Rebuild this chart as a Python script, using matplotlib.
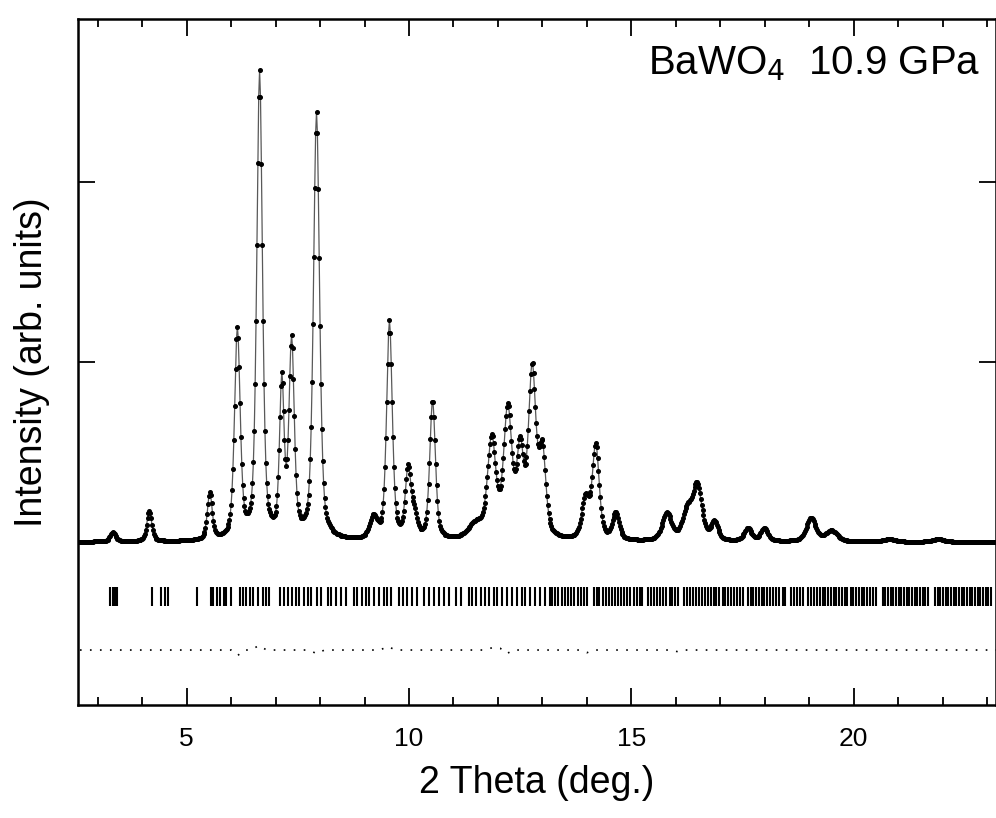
import numpy as np
import matplotlib.pyplot as plt
from matplotlib.ticker import MultipleLocator, NullFormatter

plt.rcParams['font.family'] = ['Liberation Sans', 'DejaVu Sans']

# reflections: position (deg), height (arb.), fwhm (deg)
peak_pos = [3.34, 4.16, 5.52, 6.14, 6.64, 7.14, 7.36, 7.92, 9.20, 9.56, 9.98, 10.12,
            10.53, 11.50, 11.86, 12.22, 12.50, 12.77, 13.00, 13.97, 14.20, 14.65,
            15.80, 16.25, 16.48, 16.87, 17.62, 17.99, 19.04, 19.50, 20.80, 21.90]
peak_height = [0.05, 0.17, 0.26, 1.16, 2.59, 0.85, 1.08, 2.37, 0.12, 1.21, 0.38, 0.12,
               0.77, 0.08, 0.54, 0.70, 0.46, 0.92, 0.46, 0.22, 0.52, 0.15,
               0.15, 0.15, 0.30, 0.10, 0.07, 0.07, 0.13, 0.06, 0.015, 0.015]
peak_fwhm = [0.15, 0.13, 0.13, 0.15, 0.15, 0.12, 0.14, 0.16, 0.20, 0.15, 0.15, 0.15,
             0.15, 0.40, 0.22, 0.22, 0.18, 0.20, 0.18, 0.20, 0.18, 0.18,
             0.25, 0.25, 0.25, 0.18, 0.20, 0.20, 0.25, 0.30, 0.30, 0.30]

# Bragg reflection markers (deg)
bragg = [3.27, 3.34, 3.39, 3.43, 4.21, 4.43, 4.51, 4.57, 5.23,
         5.54, 5.59, 5.68, 5.76, 5.83, 5.89, 6.00,
         6.19, 6.26, 6.34, 6.43, 6.50, 6.60, 6.71, 6.79, 6.86,
         7.09, 7.20, 7.27, 7.37, 7.46, 7.53, 7.64, 7.72, 7.80, 7.92, 8.02, 8.17,
         8.25, 8.36, 8.47, 8.59, 8.77, 8.83, 8.95, 9.04, 9.10, 9.22, 9.33, 9.44, 9.51, 9.60,
         9.78, 9.87, 9.96, 10.07, 10.19, 10.34, 10.45, 10.56, 10.67, 10.78, 10.90, 11.05, 11.16,
         11.35, 11.42, 11.50, 11.61, 11.72, 11.80, 11.91, 11.98, 12.09, 12.20, 12.31, 12.43,
         12.54, 12.61, 12.72, 12.83, 12.95, 13.06, 13.17,
         13.22, 13.29, 13.35, 13.43, 13.50, 13.58, 13.64, 13.71, 13.79, 13.86, 13.93, 14.00,
         14.15, 14.22, 14.28, 14.36, 14.43, 14.50, 14.57, 14.63, 14.70, 14.77, 14.84, 14.91,
         14.98, 15.05, 15.12, 15.19, 15.25,
         15.38, 15.44, 15.51, 15.58, 15.65, 15.72, 15.79, 15.86, 15.92, 15.99, 16.05,
         16.19, 16.25, 16.32, 16.38, 16.45, 16.52, 16.58, 16.65, 16.72, 16.78, 16.85, 16.91,
         16.98, 17.05, 17.11, 17.18, 17.25, 17.31, 17.38, 17.45, 17.50,
         17.62, 17.68, 17.74, 17.80, 17.87, 17.93, 17.99, 18.05, 18.12, 18.18, 18.25, 18.32,
         18.40, 18.46, 18.58, 18.65, 18.72, 18.79, 18.85,
         18.98, 19.05, 19.11, 19.17, 19.24, 19.30, 19.36, 19.42, 19.49, 19.55, 19.61, 19.68,
         19.74, 19.80, 19.86, 19.93, 19.99, 20.05, 20.12, 20.18, 20.24, 20.31, 20.37, 20.43, 20.50,
         20.65, 20.71, 20.77, 20.83, 20.89, 20.95, 21.01, 21.07, 21.13, 21.19, 21.25, 21.31,
         21.37, 21.43, 21.49, 21.55, 21.61, 21.67,
         21.83, 21.89, 21.95, 22.01, 22.07, 22.13, 22.19, 22.25, 22.31, 22.37, 22.43, 22.49,
         22.55, 22.61, 22.67, 22.73, 22.79, 22.85, 22.91, 22.97, 23.03, 23.09]

# obs - calc residual
diff_x = [2.6, 6.0, 6.15, 6.3, 6.45, 6.62, 6.8, 7.75, 7.92, 8.1, 9.35, 9.52, 9.7,
          11.7, 11.9, 12.05, 12.2, 12.35, 13.85, 14.0, 14.15, 15.9, 16.05, 16.2, 23.2]
diff_y = [0, 0, -0.03, 0, 0, 0.025, 0, 0, -0.02, 0, 0, 0.02, 0,
          0, 0.015, 0.01, -0.02, 0, 0, -0.015, 0, 0, -0.01, 0, 0]
diff_offset = -0.6

tth = np.arange(2.56, 23.2, 0.02)
calc = np.zeros_like(tth)
for p, h, w in zip(peak_pos, peak_height, peak_fwhm):
    d = (tth - p) / w
    lor = 1.0 / (1.0 + 4.0 * d ** 2)
    gau = np.exp(-4.0 * np.log(2) * d ** 2)
    calc += h * (0.5 * lor + 0.5 * gau)

fig = plt.figure(figsize=(9.96, 8.18), dpi=100)
ax = fig.add_axes([0.0783, 0.138, 0.9217, 0.839])

ax.plot(tth, calc, color='0.35', lw=0.9, zorder=2)
ax.plot(tth, calc, ls='none', marker='o', ms=2.6, mfc='black', mec='black', zorder=3)
ax.vlines(bragg, -0.356, -0.25, color='black', lw=1.5)
ax.plot(diff_x, np.array(diff_y) + diff_offset, color='black', lw=1.2, ls=(0, (1, 5)))

ax.set_xlim(2.556, 23.2)
ax.set_ylim(-0.906, 2.906)

ax.xaxis.set_major_locator(MultipleLocator(5))
ax.xaxis.set_minor_locator(MultipleLocator(1))
ax.set_yticks([0, 1, 2])
ax.yaxis.set_major_formatter(NullFormatter())
ax.tick_params(which='both', direction='in', top=True, right=True, width=1.3,
               labelsize=19, pad=16)
ax.tick_params(which='major', length=12)
ax.tick_params(which='minor', length=6)
for s in ax.spines.values():
    s.set_linewidth(1.8)

ax.set_xlabel('2 Theta (deg.)', fontsize=27, labelpad=10)
ax.set_ylabel('Intensity (arb. units)', fontsize=27, labelpad=4)
ax.text(0.983, 0.935, 'BaWO$_4$  10.9 GPa', transform=ax.transAxes,
        ha='right', va='center', fontsize=29)

fig.savefig('out.png', dpi=100)
